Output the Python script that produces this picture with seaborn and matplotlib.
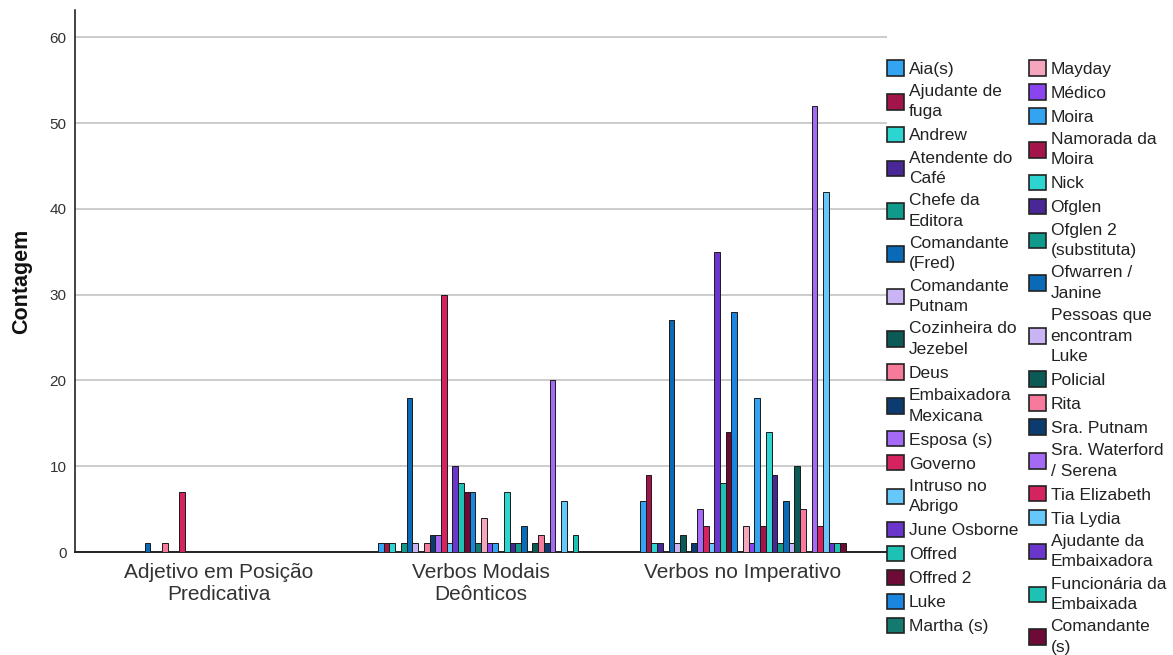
import pandas as pd
import matplotlib
matplotlib.use("Agg")
import matplotlib.pyplot as plt
import seaborn as sns

# -------------------------
# Dados (contagens)
# -------------------------
categorias = ["Adjetivo em Posição\nPredicativa", "Verbos Modais\nDeônticos", "Verbos no Imperativo"]

personagens = [
    "Aia(s)", "Ajudante de\nfuga", "Andrew", "Atendente do\nCafé", "Chefe da\nEditora",
    "Comandante\n(Fred)", "Comandante\nPutnam", "Cozinheira do\nJezebel", "Deus",
    "Embaixadora\nMexicana", "Esposa (s)", "Governo", "Intruso no\nAbrigo", "June Osborne",
    "Offred", "Offred 2", "Luke", "Martha (s)",
    "Mayday", "Médico", "Moira", "Namorada da\nMoira", "Nick", "Ofglen",
    "Ofglen 2\n(substituta)", "Ofwarren /\nJanine", "Pessoas que\nencontram\nLuke", "Policial",
    "Rita", "Sra. Putnam", "Sra. Waterford\n/ Serena", "Tia Elizabeth", "Tia Lydia",
    "Ajudante da\nEmbaixadora", "Funcionária da\nEmbaixada", "Comandante\n(s)",
]

adjetivo = [0, 0, 0, 0, 0, 1, 0, 0, 1, 0, 0, 7, 0, 0, 0, 0, 0, 0,
            0, 0, 0, 0, 0, 0, 0, 0, 0, 0, 0, 0, 0, 0, 0, 0, 0, 0]
modais = [1, 1, 1, 0, 1, 18, 1, 0, 1, 2, 2, 30, 1, 10, 8, 7, 7, 1,
          4, 1, 1, 0, 7, 1, 1, 3, 0, 1, 2, 1, 20, 0, 6, 0, 2, 0]
imperativo = [6, 9, 1, 1, 0, 27, 1, 2, 0, 1, 5, 3, 1, 35, 8, 14, 28, 0,
              3, 1, 18, 3, 14, 9, 1, 6, 1, 10, 5, 0, 52, 3, 42, 1, 1, 1]

cores = [
    "#32a4f2", "#a3144a", "#2cd5d0", "#4a2796", "#109a8c", "#0a6ab8", "#c9b4f5",
    "#0b5a55", "#f57a9c", "#0c3b70", "#a56af5", "#d4235e", "#66c8fa", "#6a36cc",
    "#1ec2b4", "#6e0a36", "#1b86e0", "#147a70",
    "#f5a5bc", "#8a44f0", "#32a4f2", "#a3144a", "#2cd5d0", "#4a2796", "#109a8c",
    "#0a6ab8", "#c9b4f5", "#0b5a55", "#f57a9c", "#0c3b70", "#a56af5", "#d4235e",
    "#66c8fa", "#6a36cc", "#1ec2b4", "#6e0a36",
]

linhas = []
for cat, valores in zip(categorias, [adjetivo, modais, imperativo]):
    for p, v in zip(personagens, valores):
        linhas.append({"categoria": cat, "personagem": p, "contagem": v})
df = pd.DataFrame(linhas)

# -------------------------
# Grafico
# -------------------------
sns.set_theme(style="white")
plt.rcParams["font.family"] = ["Liberation Sans", "DejaVu Sans"]

fig = plt.figure(figsize=(11.73, 6.55), dpi=100)
ax = fig.add_axes([75 / 1173, 1 - 552 / 655, 812 / 1173, 542 / 655])

sns.barplot(
    data=df, x="categoria", y="contagem", hue="personagem",
    order=categorias, hue_order=personagens, palette=cores, saturation=1,
    width=0.786, edgecolor="#1a1a1a", linewidth=0.7,
    errorbar=None, ax=ax, zorder=3,
)

ax.set_xlim(-0.55, 2.55)
ax.set_ylim(0, 63.2)
ax.set_yticks([0, 10, 20, 30, 40, 50, 60])
ax.yaxis.grid(True, color="#c4c4c4", linewidth=1.2, zorder=0)
ax.xaxis.grid(False)
ax.set_axisbelow(True)

sns.despine(ax=ax, top=True, right=True)
ax.spines["left"].set_color("#111111")
ax.spines["left"].set_linewidth(1.1)
ax.spines["bottom"].set_color("#222222")
ax.spines["bottom"].set_linewidth(1.4)

ax.tick_params(axis="y", length=0, pad=6, labelsize=11, labelcolor="#333333")
ax.tick_params(axis="x", length=0, pad=8, labelsize=15, labelcolor="#333333")
for t in ax.get_xticklabels():
    t.set_linespacing(1.2)

ax.set_xlabel("")
ax.set_ylabel("Contagem", fontsize=15.5, fontweight="bold", color="#111111")
ax.yaxis.set_label_coords(-0.053, 0.5)

# legenda em duas colunas a direita
handles, labels = ax.get_legend_handles_labels()
ax.get_legend().remove()
for h in handles:
    h.set_edgecolor("#222222")
    h.set_linewidth(1.2)
leg = fig.legend(
    handles, labels, ncol=2, loc="upper left",
    bbox_to_anchor=(887 / 1173, 1 - 60 / 655),
    frameon=False, fontsize=12.5, borderpad=0, borderaxespad=0,
    handlelength=1.0, handleheight=1.0, handletextpad=0.25,
    columnspacing=0.62, labelspacing=0.42, labelcolor="#222222",
)
for t in leg.get_texts():
    t.set_linespacing(1.45)

fig.savefig("out.png", dpi=100)
